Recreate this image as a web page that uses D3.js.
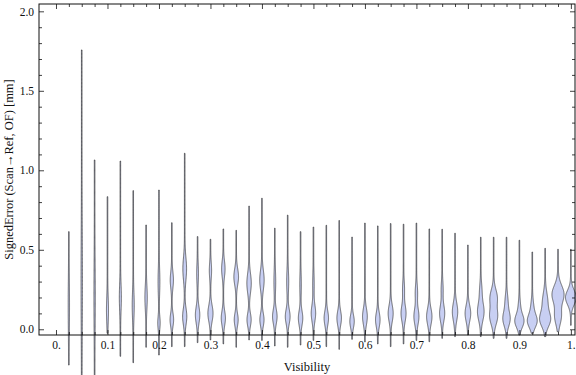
<!DOCTYPE html>
<html>
<head>
<meta charset="utf-8">
<script src="https://cdn.jsdelivr.net/npm/d3@7"></script>
<style>
  html, body { margin: 0; padding: 0; background: #fff; }
  svg { display: block; }
  text { font-family: "Liberation Serif", "Times New Roman", serif; fill: #111; }
</style>
</head>
<body>
<svg id="chart" width="576" height="375"></svg>
<script>
// ---- data ----
const visibility = [0.025, 0.05, 0.075, 0.1, 0.125, 0.15, 0.175, 0.2, 0.225, 0.25,
                    0.275, 0.3, 0.325, 0.35, 0.375, 0.4, 0.425, 0.45, 0.475, 0.5,
                    0.525, 0.55, 0.575, 0.6, 0.625, 0.65, 0.675, 0.7, 0.725, 0.75,
                    0.775, 0.8, 0.825, 0.85, 0.875, 0.9, 0.925, 0.95, 0.975, 1.0];
const errMin = [-0.225, -0.32, -0.32, -0.025, -0.17, -0.21, -0.113, -0.162, -0.109, -0.109,
                -0.084, -0.067, -0.092, -0.113, -0.067, -0.07, -0.105, -0.113, -0.099, -0.07,
                -0.109, -0.126, -0.063, -0.08, -0.092, -0.109, -0.092, -0.07, -0.078, -0.057,
                -0.046, -0.036, -0.046, -0.057, -0.057, -0.036, -0.025, -0.046, -0.015, 0.025];
const errMax = [0.614, 1.757, 1.065, 0.834, 1.058, 0.872, 0.656, 0.876, 0.670, 1.107,
                0.583, 0.566, 0.631, 0.622, 0.775, 0.824, 0.636, 0.718, 0.614, 0.643,
                0.654, 0.684, 0.580, 0.668, 0.650, 0.665, 0.661, 0.668, 0.631, 0.629,
                0.604, 0.530, 0.579, 0.579, 0.579, 0.560, 0.486, 0.509, 0.503, 0.503];
// density modes per bin: [centre (mm), relative density, spread (mm)]
const densityModes = [
  [[0.15,0.06,0.15]], [[0.3,0.06,0.3]], [[0.2,0.06,0.2]], [[0.12,0.12,0.08]],
  [[0.2,0.12,0.08]], [[0.15,0.12,0.08]], [[0.2,0.15,0.07]],
  [[0.3,0.1,0.08],[0.04,0.15,0.04]],
  [[0.31,0.22,0.05],[0.06,0.25,0.04]],
  [[0.38,0.26,0.07],[0.08,0.3,0.05]],
  [[0.35,0.1,0.06],[0.09,0.32,0.05]],
  [[0.37,0.14,0.05],[0.1,0.38,0.05]],
  [[0.38,0.24,0.05],[0.07,0.3,0.045]],
  [[0.33,0.34,0.05],[0.06,0.28,0.04]],
  [[0.29,0.32,0.06],[0.06,0.3,0.04]],
  [[0.31,0.32,0.06],[0.06,0.3,0.04]],
  [[0.3,0.1,0.07],[0.08,0.33,0.045]],
  [[0.3,0.12,0.07],[0.08,0.35,0.045]],
  [[0.28,0.08,0.07],[0.07,0.32,0.045]],
  [[0.28,0.08,0.07],[0.1,0.32,0.05]],
  [[0.07,0.32,0.045]],
  [[0.07,0.33,0.045]],
  [[0.05,0.32,0.04]],
  [[0.08,0.35,0.05]],
  [[0.06,0.33,0.045]],
  [[0.1,0.37,0.05]],
  [[0.25,0.12,0.05],[0.1,0.37,0.05]],
  [[0.23,0.15,0.05],[0.08,0.37,0.05]],
  [[0.08,0.4,0.05]],
  [[0.25,0.12,0.05],[0.1,0.38,0.05]],
  [[0.11,0.4,0.055]],
  [[0.1,0.42,0.05]],
  [[0.24,0.15,0.05],[0.11,0.5,0.055]],
  [[0.2,0.55,0.05],[0.08,0.6,0.05]],
  [[0.17,0.2,0.05],[0.065,0.55,0.045]],
  [[0.13,0.15,0.05],[0.05,0.68,0.04]],
  [[0.13,0.2,0.05],[0.05,0.72,0.04]],
  [[0.17,0.4,0.06],[0.06,0.8,0.045]],
  [[0.22,0.95,0.055],[0.08,0.5,0.05]],
  [[0.2,0.85,0.045]]
];
const xMajorTicks = [0, 0.1, 0.2, 0.3, 0.4, 0.5, 0.6, 0.7, 0.8, 0.9, 1.0];
const xMajorLabels = ["0.", "0.1", "0.2", "0.3", "0.4", "0.5", "0.6", "0.7", "0.8", "0.9", "1."];
const xMinorTicks = [0.025, 0.05, 0.075, 0.125, 0.15, 0.175, 0.225, 0.25, 0.275, 0.325, 0.35, 0.375,
                     0.425, 0.45, 0.475, 0.525, 0.55, 0.575, 0.625, 0.65, 0.675, 0.725, 0.75, 0.775,
                     0.825, 0.85, 0.875, 0.925, 0.95, 0.975];
const yMajorTicks = [0, 0.5, 1.0, 1.5, 2.0];
const yMajorLabels = ["0.0", "0.5", "1.0", "1.5", "2.0"];
const yMinorTicks = [0.1, 0.2, 0.3, 0.4, 0.6, 0.7, 0.8, 0.9, 1.1, 1.2, 1.3, 1.4, 1.6, 1.7, 1.8, 1.9];
const xTitle = "Visibility";
const yTitle = "SignedError (Scan\u2192Ref, OF) [mm]";

// ---- layout ----
const L = 39, R = 575, T = 4, B = 335;
const svg = d3.select("#chart");
const x = d3.scaleLinear().domain([-0.033, 1.008]).range([L, R]);
const y = d3.scaleLinear().domain([-0.036, 2.046]).range([B, T]);
const w = d3.scaleLinear().domain([0, 1]).range([0, 6]);
const minHalf = 0.3;

// ---- violins ----
const gV = svg.append("g");
visibility.forEach((v, i) => {
  const lo = errMin[i], hi = errMax[i], modes = densityModes[i];
  const n = 240;
  const pts = d3.range(n + 1).map(k => lo + (hi - lo) * k / n);
  const dens = e => modes.reduce((s, m) => s + m[1] * Math.exp(-((e - m[0]) ** 2) / (2 * m[2] * m[2])), 0);
  const area = d3.area()
    .y(e => y(e))
    .x0(e => x(v) - (minHalf + w(dens(e))))
    .x1(e => x(v) + (minHalf + w(dens(e))))
    .curve(d3.curveLinear);
  gV.append("path")
    .attr("d", area(pts))
    .attr("fill", "#c8cff3")
    .attr("stroke", "#2e2e2e")
    .attr("stroke-opacity", 0.75)
    .attr("stroke-width", 0.9)
    .attr("stroke-linejoin", "round");
});

// ---- axes / frame ----
const frameColor = "#111";
function style(g) {
  g.select(".domain").remove();
  g.selectAll("line").attr("stroke", frameColor).attr("stroke-width", 0.8);
  g.selectAll("text").attr("fill", "#111").style("font-family", '"Liberation Serif", "Times New Roman", serif');
}
// bottom
svg.append("g").attr("transform", `translate(0,${B})`)
  .call(d3.axisBottom(x).tickValues(xMajorTicks).tickFormat((d, i) => xMajorLabels[i])
        .tickSize(-5).tickSizeOuter(0).tickPadding(6))
  .call(style).call(g => g.selectAll("text").attr("font-size", 11.5));
svg.append("g").attr("transform", `translate(0,${B})`)
  .call(d3.axisBottom(x).tickValues(xMinorTicks).tickFormat("").tickSize(-3).tickSizeOuter(0))
  .call(style);
// top
svg.append("g").attr("transform", `translate(0,${T})`)
  .call(d3.axisBottom(x).tickValues(xMajorTicks).tickFormat("").tickSize(5).tickSizeOuter(0))
  .call(style);
svg.append("g").attr("transform", `translate(0,${T})`)
  .call(d3.axisBottom(x).tickValues(xMinorTicks).tickFormat("").tickSize(3).tickSizeOuter(0))
  .call(style);
// left
svg.append("g").attr("transform", `translate(${L},0)`)
  .call(d3.axisLeft(y).tickValues(yMajorTicks).tickFormat((d, i) => yMajorLabels[i])
        .tickSize(-5).tickSizeOuter(0).tickPadding(5))
  .call(style).call(g => g.selectAll("text").attr("font-size", 11.5));
svg.append("g").attr("transform", `translate(${L},0)`)
  .call(d3.axisLeft(y).tickValues(yMinorTicks).tickFormat("").tickSize(-3).tickSizeOuter(0))
  .call(style);
// right
svg.append("g").attr("transform", `translate(${R},0)`)
  .call(d3.axisLeft(y).tickValues(yMajorTicks).tickFormat("").tickSize(5).tickSizeOuter(0))
  .call(style);
svg.append("g").attr("transform", `translate(${R},0)`)
  .call(d3.axisLeft(y).tickValues(yMinorTicks).tickFormat("").tickSize(3).tickSizeOuter(0))
  .call(style);
// frame
svg.append("rect").attr("x", L).attr("y", T).attr("width", R - L).attr("height", B - T)
  .attr("fill", "none").attr("stroke", frameColor).attr("stroke-width", 1);

// titles
svg.append("text").attr("x", (L + R) / 2).attr("y", 370.5)
  .attr("text-anchor", "middle").attr("font-size", 12.5).text(xTitle);
svg.append("text").attr("transform", `translate(12.5,${(T + B) / 2}) rotate(-90)`)
  .attr("text-anchor", "middle").attr("font-size", 12.5).text(yTitle);
</script>
</body>
</html>
